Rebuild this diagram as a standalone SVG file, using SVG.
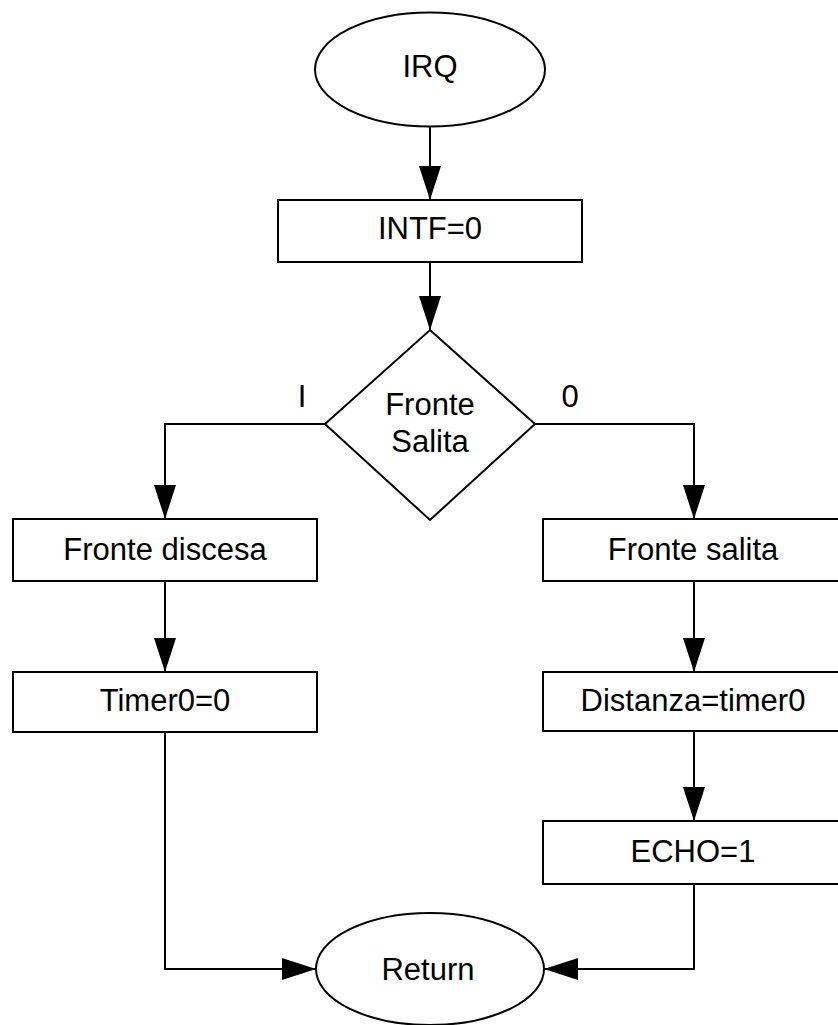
<svg xmlns="http://www.w3.org/2000/svg" width="838" height="1025" viewBox="0 0 838 1025">
  <style>
    .shape { fill: #ffffff; stroke: #000000; stroke-width: 2; }
    .edge { fill: none; stroke: #000000; stroke-width: 2; }
    .label { font-family: "Liberation Sans", Arial, sans-serif; font-size: 31px; fill: #000000; text-anchor: middle; }
  </style>
  <defs>
    <marker id="arrow" markerUnits="userSpaceOnUse" markerWidth="36" markerHeight="24" refX="34" refY="11" orient="auto">
      <path d="M0,0 L34,11 L0,22 Z" fill="#000000"/>
    </marker>
  </defs>
  <rect width="838" height="1025" fill="#ffffff"/>

  <!-- connectors -->
  <g id="connectors">
    <path class="edge" d="M430,127 V200" marker-end="url(#arrow)"/>
    <path class="edge" d="M430,262 V330" marker-end="url(#arrow)"/>
    <path class="edge" d="M325,424 H165 V519" marker-end="url(#arrow)"/>
    <path class="edge" d="M535,424 H694 V519" marker-end="url(#arrow)"/>
    <path class="edge" d="M165,581 V672" marker-end="url(#arrow)"/>
    <path class="edge" d="M694,581 V672" marker-end="url(#arrow)"/>
    <path class="edge" d="M694,731 V821" marker-end="url(#arrow)"/>
    <path class="edge" d="M165,732 V969 H316" marker-end="url(#arrow)"/>
    <path class="edge" d="M694,884 V969 H544" marker-end="url(#arrow)"/>
    <text class="label" x="302" y="407">I</text>
    <text class="label" x="570" y="407">0</text>
  </g>

  <!-- nodes -->
  <g id="irq">
    <ellipse class="shape" cx="430" cy="69.5" rx="115" ry="57"/>
    <text class="label" x="430" y="77">IRQ</text>
  </g>
  <g id="intf">
    <rect class="shape" x="278" y="200" width="304" height="62"/>
    <text class="label" x="430" y="239">INTF=0</text>
  </g>
  <g id="decision">
    <polygon class="shape" points="430,330 535,424 430,520 325,424"/>
    <text class="label" x="430" y="415">Fronte</text>
    <text class="label" x="430" y="452">Salita</text>
  </g>
  <g id="fronte-discesa">
    <rect class="shape" x="13" y="519" width="304" height="62"/>
    <text class="label" x="165" y="560">Fronte discesa</text>
  </g>
  <g id="timer0">
    <rect class="shape" x="13" y="672" width="304" height="60"/>
    <text class="label" x="165" y="711">Timer0=0</text>
  </g>
  <g id="fronte-salita">
    <rect class="shape" x="543" y="519" width="304" height="62"/>
    <text class="label" x="693" y="560">Fronte salita</text>
  </g>
  <g id="distanza">
    <rect class="shape" x="543" y="672" width="304" height="59"/>
    <text class="label" x="693" y="711">Distanza=timer0</text>
  </g>
  <g id="echo">
    <rect class="shape" x="543" y="821" width="304" height="63"/>
    <text class="label" x="693" y="862">ECHO=1</text>
  </g>
  <g id="return">
    <ellipse class="shape" cx="430" cy="969" rx="114" ry="56"/>
    <text class="label" x="428" y="980">Return</text>
  </g>
</svg>
